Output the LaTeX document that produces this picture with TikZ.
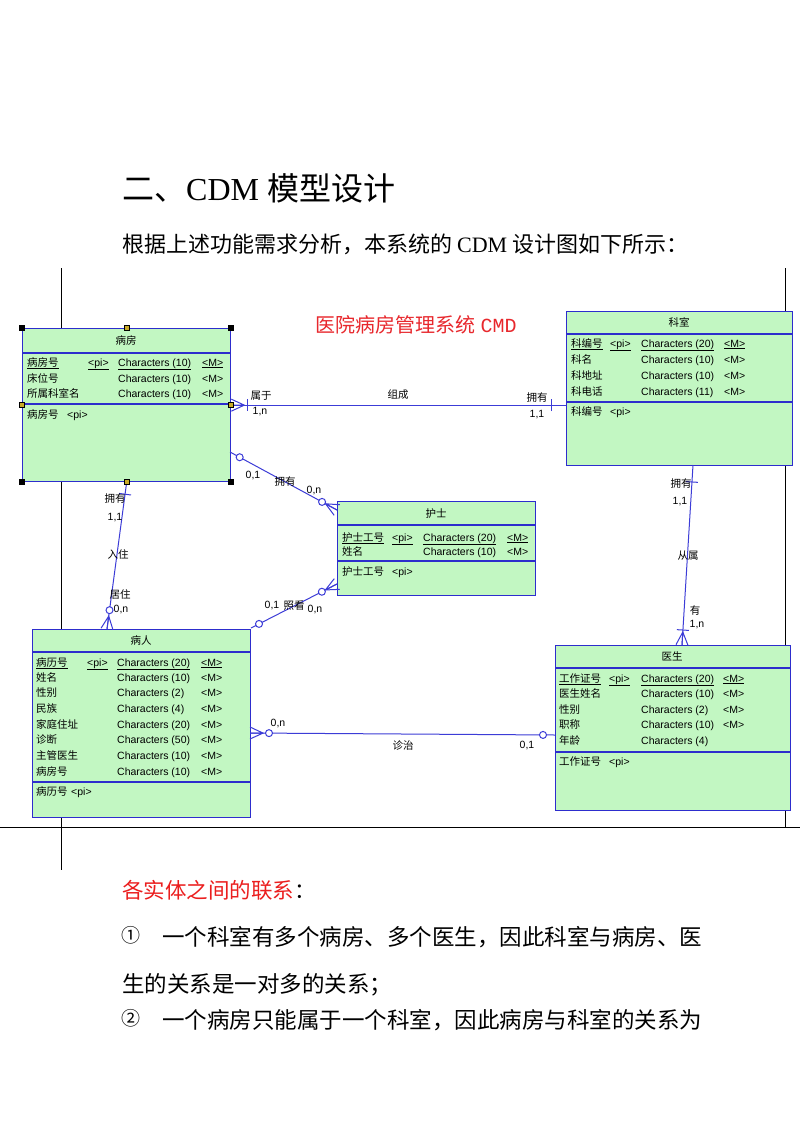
\documentclass[tikz,border=0pt]{standalone}
\usepackage{fontspec}
\setmainfont{Liberation Serif}
\newfontfamily\cjk{Noto Sans CJK SC}
\newfontfamily\ui{Liberation Sans}
\newfontfamily\mono{Liberation Mono}
\usetikzlibrary{calc}
\definecolor{entfill}{RGB}{194,247,194}
\definecolor{entline}{RGB}{45,45,205}
\definecolor{relline}{RGB}{60,60,215}
\definecolor{titlered}{RGB}{232,40,45}
\definecolor{docred}{RGB}{235,30,30}
\definecolor{handley}{RGB}{200,170,40}
\tikzset{
  ent/.style={draw=entline, fill=entfill, line width=1.3pt, rectangle, inner sep=0pt, anchor=north west},
  sepline/.style={draw=entline, line width=1.3pt},
  rel/.style={draw=relline, line width=1pt},
  pageline/.style={draw=black, line width=0.9pt},
  etitle/.style={inner sep=0pt, text height=8pt, text depth=2pt, font=\cjk\fontsize{10.5}{12}\selectfont},
  cn/.style={anchor=west, inner sep=0pt, text height=8pt, text depth=2pt, font=\cjk\fontsize{10.5}{12}\selectfont},
  ln/.style={anchor=west, inner sep=0pt, text height=8pt, text depth=2pt, font=\ui\fontsize{10.5}{12}\selectfont},
  lab/.style={inner sep=0pt, font=\cjk\fontsize{10.5}{12}\selectfont},
  num/.style={inner sep=0pt, font=\ui\fontsize{10.5}{12}\selectfont},
  doc/.style={anchor=west, inner sep=0pt, font=\cjk\fontsize{22}{26}\selectfont},
}
\newcommand\crowfoot[2]{%
  \draw[rel] (#1) -- ($(#1)!13pt!(#2)$)
    ($(#1)!6pt!90:(#2)$) -- ($(#1)!13pt!(#2)$) -- ($(#1)!6pt!-90:(#2)$);}
\newcommand\tickmark[3]{%
  \coordinate (tmpt) at ($(#1)!#3!(#2)$);
  \draw[rel] ($(tmpt)!6pt!90:(#2)$) -- ($(tmpt)!6pt!-90:(#2)$);}
\newcommand\ringmark[3]{%
  \draw[rel, fill=white] ($(#1)!#3!(#2)$) circle (3.5pt);}
\begin{document}
\begin{tikzpicture}[x=1pt,y=-1pt]
\useasboundingbox (0,0) rectangle (800,1132);
\fill[white] (0,0) rectangle (800,1132);

% document text
\node[anchor=west, inner sep=0pt, font=\fontsize{32}{38}\selectfont] (h1) at (122,188) {{\cjk 二、}CDM {\cjk 模型设计}};
\node[doc] (h2) at (122,244) {根据上述功能需求分析，本系统的 {\rmfamily CDM} 设计图如下所示：};

% page frame lines
\draw[pageline] (61,268) -- (61,870);
\draw[pageline] (785,268) -- (785,827);
\draw[pageline] (0,827) -- (800,827);

% diagram title
\node[inner sep=0pt, text=titlered, font=\fontsize{20}{24}\selectfont] (dt) at (416,325) {{\cjk 医院病房管理系统} {\mono CMD}};

% ---------- entity 病房
\node[ent, minimum width=208pt, minimum height=153pt] (bf) at (22,328) {};
\draw[sepline] (22,353) -- (230,353);
\draw[sepline] (22,404) -- (230,404);
\node[etitle] (bf-t) at (126,341) {病房};
\node[cn] (bf-a1) at (27,363) {\underline{病房号}};
\node[ln] (bf-p1) at (88,363) {\underline{<pi>}};
\node[ln] (bf-c1) at (118,363) {\underline{Characters (10)}};
\node[ln] (bf-m1) at (202,363) {\underline{<M>}};
\node[cn] (bf-a2) at (27,379) {床位号};
\node[ln] (bf-c2) at (118,379) {Characters (10)};
\node[ln] (bf-m2) at (202,379) {<M>};
\node[cn] (bf-a3) at (27,394) {所属科室名};
\node[ln] (bf-c3) at (118,394) {Characters (10)};
\node[ln] (bf-m3) at (202,394) {<M>};
\node[cn] (bf-i) at (27,415) {病房号};
\node[ln] (bf-ip) at (67,415) {<pi>};

% ---------- entity 科室
\node[ent, minimum width=226pt, minimum height=154pt] (km) at (566,311) {};
\draw[sepline] (566,334) -- (792,334);
\draw[sepline] (566,402) -- (792,402);
\node[etitle] (km-t) at (679,323) {科室};
\node[cn] (km-a1) at (571,344) {\underline{科编号}};
\node[ln] (km-p1) at (610,344) {\underline{<pi>}};
\node[ln] (km-c1) at (641,344) {\underline{Characters (20)}};
\node[ln] (km-m1) at (724,344) {\underline{<M>}};
\node[cn] (km-a2) at (571,360) {科名};
\node[ln] (km-c2) at (641,360) {Characters (10)};
\node[ln] (km-m2) at (724,360) {<M>};
\node[cn] (km-a3) at (571,376) {科地址};
\node[ln] (km-c3) at (641,376) {Characters (10)};
\node[ln] (km-m3) at (724,376) {<M>};
\node[cn] (km-a4) at (571,392) {科电话};
\node[ln] (km-c4) at (641,392) {Characters (11)};
\node[ln] (km-m4) at (724,392) {<M>};
\node[cn] (km-i) at (571,412) {科编号};
\node[ln] (km-ip) at (610,412) {<pi>};

% ---------- entity 护士
\node[ent, minimum width=198pt, minimum height=94pt] (hs) at (337,501) {};
\draw[sepline] (337,525) -- (535,525);
\draw[sepline] (337,561) -- (535,561);
\node[etitle] (hs-t) at (436,514) {护士};
\node[cn] (hs-a1) at (342,538) {\underline{护士工号}};
\node[ln] (hs-p1) at (392,538) {\underline{<pi>}};
\node[ln] (hs-c1) at (423,538) {\underline{Characters (20)}};
\node[ln] (hs-m1) at (507,538) {\underline{<M>}};
\node[cn] (hs-a2) at (342,552) {姓名};
\node[ln] (hs-c2) at (423,552) {Characters (10)};
\node[ln] (hs-m2) at (507,552) {<M>};
\node[cn] (hs-i) at (342,572) {护士工号};
\node[ln] (hs-ip) at (392,572) {<pi>};

% ---------- entity 病人
\node[ent, minimum width=218pt, minimum height=188pt] (br) at (32,629) {};
\draw[sepline] (32,652) -- (250,652);
\draw[sepline] (32,782) -- (250,782);
\node[etitle] (br-t) at (141,641) {病人};
\node[cn] (br-a1) at (36,663) {\underline{病历号}};
\node[ln] (br-p1) at (87,663) {\underline{<pi>}};
\node[ln] (br-c1) at (117,663) {\underline{Characters (20)}};
\node[ln] (br-m1) at (201,663) {\underline{<M>}};
\node[cn] (br-a2) at (36,678) {姓名};
\node[ln] (br-c2) at (117,678) {Characters (10)};
\node[ln] (br-m2) at (201,678) {<M>};
\node[cn] (br-a3) at (36,693) {性别};
\node[ln] (br-c3) at (117,693) {Characters (2)};
\node[ln] (br-m3) at (201,693) {<M>};
\node[cn] (br-a4) at (36,709) {民族};
\node[ln] (br-c4) at (117,709) {Characters (4)};
\node[ln] (br-m4) at (201,709) {<M>};
\node[cn] (br-a5) at (36,725) {家庭住址};
\node[ln] (br-c5) at (117,725) {Characters (20)};
\node[ln] (br-m5) at (201,725) {<M>};
\node[cn] (br-a6) at (36,740) {诊断};
\node[ln] (br-c6) at (117,740) {Characters (50)};
\node[ln] (br-m6) at (201,740) {<M>};
\node[cn] (br-a7) at (36,756) {主管医生};
\node[ln] (br-c7) at (117,756) {Characters (10)};
\node[ln] (br-m7) at (201,756) {<M>};
\node[cn] (br-a8) at (36,772) {病房号};
\node[ln] (br-c8) at (117,772) {Characters (10)};
\node[ln] (br-m8) at (201,772) {<M>};
\node[cn] (br-i) at (36,792) {病历号};
\node[ln] (br-ip) at (71,792) {<pi>};

% ---------- entity 医生
\node[ent, minimum width=235pt, minimum height=165pt] (ys) at (555,645) {};
\draw[sepline] (555,668) -- (790,668);
\draw[sepline] (555,752) -- (790,752);
\node[etitle] (ys-t) at (672,657) {医生};
\node[cn] (ys-a1) at (559,679) {\underline{工作证号}};
\node[ln] (ys-p1) at (609,679) {\underline{<pi>}};
\node[ln] (ys-c1) at (641,679) {\underline{Characters (20)}};
\node[ln] (ys-m1) at (723,679) {\underline{<M>}};
\node[cn] (ys-a2) at (559,694) {医生姓名};
\node[ln] (ys-c2) at (641,694) {Characters (10)};
\node[ln] (ys-m2) at (723,694) {<M>};
\node[cn] (ys-a3) at (559,710) {性别};
\node[ln] (ys-c3) at (641,710) {Characters (2)};
\node[ln] (ys-m3) at (723,710) {<M>};
\node[cn] (ys-a4) at (559,725) {职称};
\node[ln] (ys-c4) at (641,725) {Characters (10)};
\node[ln] (ys-m4) at (723,725) {<M>};
\node[cn] (ys-a5) at (559,741) {年龄};
\node[ln] (ys-c5) at (641,741) {Characters (4)};
\node[cn] (ys-i) at (559,762) {工作证号};
\node[ln] (ys-ip) at (609,762) {<pi>};

% ---------- relationship end points
\coordinate (eA1) at (bf.east);
\coordinate (eA2) at (bf.east -| km.west);
\coordinate (eB1) at (230,452);
\coordinate (eB2) at (337,510);
\coordinate (eC1) at (337,584);
\coordinate (eC2) at (251,628);
\coordinate (eD1) at (bf.south);
\coordinate (eD2) at (107,629);
\coordinate (eE1) at (693,465);
\coordinate (eE2) at (682,645);
\coordinate (eF1) at (250,733);
\coordinate (eF2) at (555,735);

% 组成 : 病房 (1,n) -- 科室 (1,1)
\draw[rel] (eA1) -- (eA2);
\crowfoot{eA1}{eA2}
\tickmark{eA1}{eA2}{16pt}
\tickmark{eA2}{eA1}{15pt}
\node[lab] (lA1) at (261,396) {属于};
\node[num] (lA2) at (260,412) {1,n};
\node[lab] (lA3) at (398,395) {组成};
\node[lab] (lA4) at (537,398) {拥有};
\node[num] (lA5) at (537,415) {1,1};

% 拥有 : 病房 (0,1) -- 护士 (0,n)
\draw[rel] (eB1) -- (eB2);
\crowfoot{eB2}{eB1}
\ringmark{eB2}{eB1}{17pt}
\ringmark{eB1}{eB2}{11pt}
\node[num] (lB1) at (253,475) {0,1};
\node[lab] (lB2) at (285,482) {拥有};
\node[num] (lB3) at (314,490) {0,n};

% 照看 : 护士 (0,n) -- 病人 (0,1)
\draw[rel] (eC1) -- (eC2);
\crowfoot{eC1}{eC2}
\ringmark{eC1}{eC2}{17pt}
\ringmark{eC2}{eC1}{9pt}
\node[num] (lC1) at (272,605) {0,1};
\node[lab] (lC2) at (294,606) {照看};
\node[num] (lC3) at (315,609) {0,n};

% 入住 : 病房 (1,1) -- 病人 (0,n)
\draw[rel] (eD1) -- (eD2);
\tickmark{eD1}{eD2}{12pt}
\crowfoot{eD2}{eD1}
\ringmark{eD2}{eD1}{19pt}
\node[lab] (lD1) at (115,499) {拥有};
\node[num] (lD2) at (115,518) {1,1};
\node[lab] (lD3) at (118,554) {入住};
\node[lab] (lD4) at (120,594) {居住};
\node[num] (lD5) at (121,609) {0,n};

% 从属 : 科室 (1,1) -- 医生 (1,n)
\draw[rel] (eE1) -- (eE2);
\tickmark{eE1}{eE2}{17pt}
\crowfoot{eE2}{eE1}
\tickmark{eE2}{eE1}{15pt}
\node[lab] (lE1) at (681,484) {拥有};
\node[num] (lE2) at (680,502) {1,1};
\node[lab] (lE3) at (688,556) {从属};
\node[lab] (lE4) at (695,610) {有};
\node[num] (lE5) at (697,625) {1,n};

% 诊治 : 病人 (0,n) -- 医生 (0,1)
\draw[rel] (eF1) -- (eF2);
\crowfoot{eF1}{eF2}
\ringmark{eF1}{eF2}{19pt}
\ringmark{eF2}{eF1}{12pt}
\node[num] (lF1) at (278,723) {0,n};
\node[lab] (lF2) at (403,745) {诊治};
\node[num] (lF3) at (527,745) {0,1};

% selection handles of 病房
\foreach \p in {bf.north west, bf.north east, bf.south west, bf.south east}
  \fill[black] (\p) ++(-3,-3) rectangle ++(6,6);
\foreach \p in {bf.north, bf.south, bf.west, bf.east}
  \filldraw[fill=handley, draw=black, line width=1pt] (\p) ++(-2.5,-2.5) rectangle ++(5,5);

% text below
\node[doc, font=\cjk\fontsize{21.5}{26}\selectfont] (r0) at (122,890) {\textcolor{docred}{各实体之间的联系}：};
\node[doc, font=\cjk\fontsize{19}{24}\selectfont] (n1) at (121,935) {①};
\node[doc, font=\cjk\fontsize{22.5}{27}\selectfont] (r1) at (162,937) {一个科室有多个病房、多个医生，因此科室与病房、医};
\node[doc, font=\cjk\fontsize{22.5}{27}\selectfont] (r2) at (122,985) {生的关系是一对多的关系；};
\node[doc, font=\cjk\fontsize{19}{24}\selectfont] (n2) at (121,1018) {②};
\node[doc, font=\cjk\fontsize{22.5}{27}\selectfont] (r3) at (162,1020) {一个病房只能属于一个科室，因此病房与科室的关系为};
\end{tikzpicture}
\end{document}
